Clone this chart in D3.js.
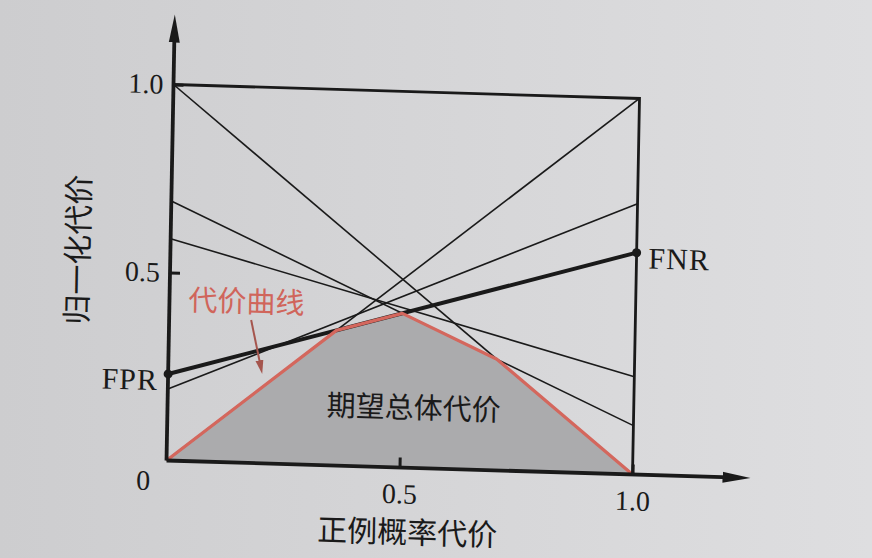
<!DOCTYPE html>
<html>
<head>
<meta charset="utf-8">
<script src="https://cdn.jsdelivr.net/npm/d3@7"></script>
<style>
  body { margin: 0; background: #d6d6d8; }
  svg { display: block; }
</style>
</head>
<body>
<div id="chart"></div>
<script>
// Each classifier is a line from (0, FPR) to (1, FNR).
const fprValues = [1.0, 0.69, 0.59, 0.23, 0.19, 0.0];
const fnrValues = [0.0, 0.13, 0.26, 0.59, 0.72, 1.0];
const highlighted = 3; // the one whose FPR / FNR end points are labelled

const xTickValues = [0.5, 1.0];
const yTickValues = [0.5, 1.0];
const originLabel = '0';

const xTitle = '正例概率代价';
const yTitle = '归一化代价';
const curveLabel = '代价曲线';
const areaLabel = '期望总体代价';
const fprLabel = 'FPR';
const fnrLabel = 'FNR';

// lower envelope of all the cost lines = the cost curve
function lowerEnvelope(fpr, fnr) {
  const lines = fpr.map((a, i) => ({ a: a, s: fnr[i] - a }));
  const cost = (l, p) => l.a + l.s * p;
  let cur = lines.reduce((m, l) => (l.a < m.a || (l.a === m.a && l.s < m.s)) ? l : m);
  let p = 0;
  const pts = [[0, cur.a]];
  while (true) {
    let next = null, np = Infinity;
    lines.forEach(l => {
      if (l.s >= cur.s) return;
      const q = (l.a - cur.a) / (cur.s - l.s);
      if (q > p + 1e-9 && q < 1 && (q < np - 1e-9 || (Math.abs(q - np) < 1e-9 && l.s < next.s))) {
        np = q; next = l;
      }
    });
    if (!next) break;
    pts.push([np, cost(cur, np)]);
    cur = next; p = np;
  }
  pts.push([1, cost(cur, 1)]);
  return pts;
}

function createChart() {
  const width = 872;
  const height = 558;
  const plotW = 466;
  const plotH = 376;

  const svg = d3.select('#chart').append('svg')
    .attr('width', width)
    .attr('height', height);

  const defs = svg.append('defs');
  const grad = defs.append('linearGradient').attr('id', 'paper');
  grad.append('stop').attr('offset', '0%').attr('stop-color', '#cdcdcf');
  grad.append('stop').attr('offset', '100%').attr('stop-color', '#dedee0');

  defs.append('marker')
    .attr('id', 'axisArrow')
    .attr('viewBox', '0 -6 28 12')
    .attr('refX', 8).attr('refY', 0)
    .attr('markerWidth', 28).attr('markerHeight', 12)
    .attr('markerUnits', 'userSpaceOnUse')
    .attr('orient', 'auto')
    .append('path')
      .attr('d', 'M0,-5.5L28,0L0,5.5Z')
      .attr('fill', '#1a1a1a');

  defs.append('marker')
    .attr('id', 'redArrow')
    .attr('viewBox', '0 -5 14 10')
    .attr('refX', 4).attr('refY', 0)
    .attr('markerWidth', 14).attr('markerHeight', 10)
    .attr('markerUnits', 'userSpaceOnUse')
    .attr('orient', 'auto')
    .append('path')
      .attr('d', 'M0,-4L14,0L0,4Z')
      .attr('fill', '#a5554d');

  svg.append('rect')
    .attr('width', width).attr('height', height)
    .attr('fill', 'url(#paper)');

  // the printed page is photographed slightly askew
  const g = svg.append('g')
    .attr('transform', 'matrix(1,0.03,-0.0186,1,173.5,84.5)');

  const x = d3.scaleLinear().domain([0, 1]).range([0, plotW]);
  const y = d3.scaleLinear().domain([0, 1]).range([plotH, 0]);

  const env = lowerEnvelope(fprValues, fnrValues);

  // shaded area under the cost curve
  g.append('path')
    .datum(env)
    .attr('d', d3.area().x(d => x(d[0])).y0(y(0)).y1(d => y(d[1])))
    .attr('fill', '#ababad');

  const line = d3.line().x(d => x(d[0])).y(d => y(d[1]));
  const segs = fprValues.map((a, i) => [[0, a], [1, fnrValues[i]]]);

  g.append('g')
    .selectAll('path')
    .data(segs)
    .enter()
    .append('path')
      .attr('d', line)
      .attr('fill', 'none')
      .attr('stroke', '#1a1a1a')
      .attr('stroke-width', (d, i) => i === highlighted ? 4 : 1.6);

  g.append('path')
    .datum(env)
    .attr('d', line)
    .attr('fill', 'none')
    .attr('stroke', '#d4675d')
    .attr('stroke-width', 3.2)
    .attr('stroke-linejoin', 'round');

  // box top and right edges
  g.append('path')
    .datum([[0, 1], [1, 1], [1, 0]])
    .attr('d', line)
    .attr('fill', 'none')
    .attr('stroke', '#1a1a1a')
    .attr('stroke-width', 2.8);

  // axes with arrows
  g.append('line')
    .attr('x1', x(0)).attr('y1', y(0))
    .attr('x2', x(0)).attr('y2', y(1) - 50)
    .attr('stroke', '#1a1a1a').attr('stroke-width', 3.8)
    .attr('marker-end', 'url(#axisArrow)');
  g.append('line')
    .attr('x1', x(0)).attr('y1', y(0))
    .attr('x2', x(1) + 98).attr('y2', y(0))
    .attr('stroke', '#1a1a1a').attr('stroke-width', 3.8)
    .attr('marker-end', 'url(#axisArrow)');

  const xAxis = g.append('g')
    .attr('transform', `translate(0,${plotH})`)
    .call(d3.axisBottom(x).tickValues(xTickValues).tickSize(-10).tickPadding(16)
      .tickFormat(d3.format('.1f')));
  const yAxis = g.append('g')
    .call(d3.axisLeft(y).tickValues(yTickValues).tickSize(-10).tickPadding(10)
      .tickFormat(d3.format('.1f')));

  [xAxis, yAxis].forEach(a => {
    a.select('.domain').remove();
    a.selectAll('.tick line').attr('stroke', '#1a1a1a').attr('stroke-width', 3);
    a.selectAll('.tick text')
      .attr('fill', '#1a1a1a')
      .attr('font-family', '"Liberation Serif", serif')
      .attr('font-size', 28);
  });

  g.append('text')
    .attr('x', x(0) - 23).attr('y', y(0) + 20)
    .attr('dy', '0.35em')
    .attr('text-anchor', 'middle')
    .attr('font-family', '"Liberation Serif", serif')
    .attr('font-size', 28)
    .attr('fill', '#1a1a1a')
    .text(originLabel);

  // FPR / FNR end points
  const hp = [[0, fprValues[highlighted]], [1, fnrValues[highlighted]]];
  g.selectAll('circle.end')
    .data(hp)
    .enter()
    .append('circle')
      .attr('class', 'end')
      .attr('cx', d => x(d[0]))
      .attr('cy', d => y(d[1]))
      .attr('r', 4.5)
      .attr('fill', '#1a1a1a');

  g.append('text')
    .attr('x', x(0) - 10).attr('y', y(fprValues[highlighted]) + 6)
    .attr('dy', '0.35em')
    .attr('text-anchor', 'end')
    .attr('font-family', '"Liberation Serif", serif')
    .attr('font-size', 30)
    .attr('letter-spacing', 1)
    .attr('fill', '#1a1a1a')
    .text(fprLabel);

  g.append('text')
    .attr('x', x(1) + 12).attr('y', y(fnrValues[highlighted]) + 5)
    .attr('dy', '0.35em')
    .attr('font-family', '"Liberation Serif", serif')
    .attr('font-size', 30)
    .attr('letter-spacing', 1)
    .attr('fill', '#1a1a1a')
    .text(fnrLabel);

  const cjk = '"Noto Sans CJK SC", sans-serif';

  g.append('text')
    .attr('x', 77).attr('y', 215)
    .attr('dy', '0.35em')
    .attr('text-anchor', 'middle')
    .attr('font-family', cjk)
    .attr('font-size', 29)
    .attr('fill', '#d0655b')
    .text(curveLabel);

  // pointer from the label down to the red curve
  const tipP = 0.21;
  g.append('line')
    .attr('x1', 82).attr('y1', 233)
    .attr('x2', x(tipP) - 6).attr('y2', y(tipP) - 20)
    .attr('stroke', '#a5554d')
    .attr('stroke-width', 2)
    .attr('marker-end', 'url(#redArrow)');

  g.append('text')
    .attr('x', 246).attr('y', 316)
    .attr('dy', '0.35em')
    .attr('text-anchor', 'middle')
    .attr('font-family', cjk)
    .attr('font-size', 29)
    .attr('fill', '#1a1a1a')
    .text(areaLabel);

  g.append('text')
    .attr('x', 242).attr('y', plotH + 65)
    .attr('dy', '0.35em')
    .attr('text-anchor', 'middle')
    .attr('font-family', cjk)
    .attr('font-size', 30)
    .attr('fill', '#1a1a1a')
    .text(xTitle);

  g.append('text')
    .attr('transform', `translate(-92,168) rotate(-90)`)
    .attr('dy', '0.35em')
    .attr('text-anchor', 'middle')
    .attr('font-family', cjk)
    .attr('font-size', 30)
    .attr('fill', '#1a1a1a')
    .text(yTitle);
}

createChart();
</script>
</body>
</html>
